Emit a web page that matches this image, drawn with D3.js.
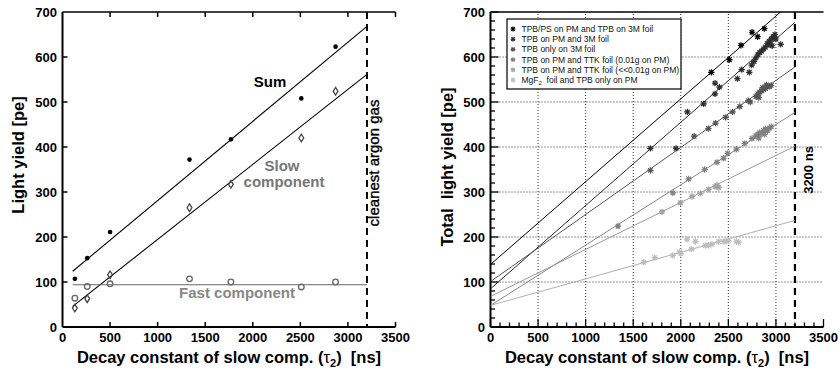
<!DOCTYPE html>
<html><head><meta charset="utf-8">
<script src="https://cdn.jsdelivr.net/npm/d3@7"></script>
<style>
body{margin:0;background:#fff;}
svg{display:block;font-family:"Liberation Sans",Arial,Helvetica,sans-serif;}
</style></head>
<body><svg id="c" width="840" height="371"></svg>
<script>
// ---------- Left panel data ----------
const tauLeft = [130, 260, 500, 1335, 1770, 2510, 2870];
const sumYield = [107, 153, 211, 372, 417, 508, 623];
const slowYield = [42, 63, 116, 265, 317, 420, 524];
const fastYield = [64, 90, 96, 107, 100, 89, 100];
const leftFitNames = ["Sum", "Slow", "Fast"];
const leftFitIntercepts = [105, 28, 94];
const leftFitSlopes = [0.176, 0.1667, 0];
const leftFitRange = [107, 3200];

// ---------- Right panel data ----------
const seriesNames = [
  "TPB/PS on PM and TPB on 3M foil",
  "TPB on PM and 3M foil",
  "TPB only on 3M foil",
  "TPB on PM and TTK foil (0.01g on PM)",
  "TPB on PM and TTK foil (<<0.01g on PM)",
  "MgF2 foil and TPB only on PM"
];
const seriesColors = ["#000000", "#2e2e2e", "#555555", "#808080", "#a2a2a2", "#bdbdbd"];
const lineColors = ["#000000", "#2e2e2e", "#555555", "#858585", "#9a9a9a", "#b0b0b0"];
const tpbPsPoints = [[2321,566],[2511,594],[2633,626],[2749,655],[2808,645],[2878,663]];
const tpb3mPoints = [[1680,397],[1950,397],[2069,478],[2240,496],[2360,518],[2360,542],[2406,533],
  [2595,552],[2640,572],[2720,566],[2745,582],[2770,590],[2790,598],[2810,605],[2830,610],[2850,613],
  [2870,618],[2890,622],[2910,630],[2930,635],[2950,640],[2970,645],[2985,642],[3000,640],[2960,625],
  [3050,628],[2990,650],[2940,627]];
const tpbOnly3mPoints = [[1680,348],[2140,424],[2290,441],[2365,453],[2470,466],[2545,478],[2620,490],
  [2710,503],[2730,500],[2790,512],[2810,518],[2830,522],[2850,525],[2870,528],[2890,530],[2910,535],
  [2930,534],[2950,537],[2820,510],[2860,532],[2900,538]];
const ttk001Points = [[1340,224],[1918,298],[2083,329],[2251,350],[2381,366],[2451,375],[2493,386],
  [2584,395],[2672,408],[2749,419],[2790,425],[2810,428],[2830,432],[2850,430],[2870,437],[2890,440],
  [2910,436],[2930,442],[2950,445],[2820,420],[2880,428]];
const ttkLowPoints = [[1803,256],[1996,276],[2118,290],[2206,297],[2293,306],[2381,315],[2360,312],[2400,310]];
const mgf2Points = [[1611,144],[1726,154],[1915,159],[1988,167],[2000,163],[2066,195],[2112,173],
  [2154,190],[2258,181],[2293,182],[2328,184],[2398,190],[2451,190],[2482,191],[2500,192],[2584,190],[2608,188]];
const rightFitIntercepts = [139, 85, 101, 48, 68, 48];
const rightFitSlopes = [0.184, 0.185, 0.149, 0.134, 0.1044, 0.059];
const rightFitRange = [0, 3200];

const xTicks = [0, 500, 1000, 1500, 2000, 2500, 3000, 3500];
const yTicks = [0, 100, 200, 300, 400, 500, 600, 700];
const cutoff = 3200;

// ---------- drawing ----------
const svg = d3.select("#c");
const yTopPx = 12, yBottomPx = 327;
const y = d3.scaleLinear().domain([0, 700]).range([yBottomPx, yTopPx]);
const xL = d3.scaleLinear().domain([0, 3500]).range([62.5, 395.5]);
const xR = d3.scaleLinear().domain([0, 3500]).range([490.5, 823.5]);

function tickLabels(g, x) {
  g.selectAll(".xt").data(xTicks).join("text")
    .attr("x", d => x(d)).attr("y", 342).attr("text-anchor", "middle")
    .attr("font-size", 13).attr("font-weight", "bold").text(d => d);
  g.selectAll(".yt").data(yTicks).join("text")
    .attr("x", x(0) - 5.5).attr("y", d => y(d) + 4.7).attr("text-anchor", "end")
    .attr("font-size", 13).attr("font-weight", "bold").text(d => d);
}
function xTitle(g, x) {
  const t = g.append("text").attr("x", (x(0) + x(3500)) / 2).attr("y", 363)
    .attr("text-anchor", "middle").attr("font-size", 16.5).attr("font-weight", "bold");
  t.append("tspan").text("Decay constant of slow comp. (");
  t.append("tspan").attr("font-weight", "normal").text("τ");
  t.append("tspan").attr("font-size", 11).attr("dy", 4).text("2");
  t.append("tspan").attr("dy", -4).text(")\u00a0\u00a0[ns]");
}

// ===== LEFT PANEL =====
const L = svg.append("g");
L.append("line").attr("x1", xL(0)).attr("x2", xL(3500)).attr("y1", y(700)).attr("y2", y(700))
  .attr("stroke", "#000").attr("stroke-width", 1.5);
L.append("line").attr("x1", xL(0)).attr("x2", xL(3500)).attr("y1", y(0)).attr("y2", y(0))
  .attr("stroke", "#000").attr("stroke-width", 2);
L.append("line").attr("x1", xL(0)).attr("x2", xL(0)).attr("y1", y(0)).attr("y2", y(700))
  .attr("stroke", "#000").attr("stroke-width", 2);
L.selectAll(".ytk").data(yTicks.slice(1, -1)).join("line")
  .attr("x1", xL(0)).attr("x2", xL(0) + 5).attr("y1", d => y(d)).attr("y2", d => y(d))
  .attr("stroke", "#000").attr("stroke-width", 1.5);
L.selectAll(".xtkb").data(xTicks.slice(1)).join("line")
  .attr("x1", d => xL(d)).attr("x2", d => xL(d)).attr("y1", y(0)).attr("y2", y(0) - 5)
  .attr("stroke", "#000").attr("stroke-width", 1.5);
L.selectAll(".xtkt").data(xTicks.slice(1)).join("line")
  .attr("x1", d => xL(d)).attr("x2", d => xL(d)).attr("y1", y(700)).attr("y2", y(700) + 5)
  .attr("stroke", "#000").attr("stroke-width", 1.5);
tickLabels(L, xL);
xTitle(L, xL);
L.append("text").attr("transform", "translate(24,155) rotate(-90)").attr("text-anchor", "middle")
  .attr("font-size", 16.5).attr("font-weight", "bold").text("Light yield [pe]");
L.append("line").attr("x1", xL(cutoff)).attr("x2", xL(cutoff)).attr("y1", y(700)).attr("y2", y(0))
  .attr("stroke", "#000").attr("stroke-width", 2).attr("stroke-dasharray", "7,5");
L.append("text").attr("transform", `translate(${xL(cutoff) + 12},163) rotate(-90)`).attr("text-anchor", "middle")
  .attr("font-size", 15).attr("stroke", "#000").attr("stroke-width", 0.35).text("cleanest argon gas");
const leftFitColors = ["#000", "#000", "#666"];
leftFitNames.forEach((n, i) => {
  L.append("line")
    .attr("x1", xL(leftFitRange[0])).attr("y1", y(leftFitIntercepts[i] + leftFitSlopes[i] * leftFitRange[0]))
    .attr("x2", xL(leftFitRange[1])).attr("y2", y(leftFitIntercepts[i] + leftFitSlopes[i] * leftFitRange[1]))
    .attr("stroke", leftFitColors[i]).attr("stroke-width", 1.1);
});
L.selectAll(".fast").data(tauLeft).join("circle")
  .attr("cx", d => xL(d)).attr("cy", (d, i) => y(fastYield[i])).attr("r", 2.8)
  .attr("fill", "none").attr("stroke", "#666").attr("stroke-width", 1.3);
L.selectAll(".slow").data(tauLeft).join("path")
  .attr("transform", (d, i) => `translate(${xL(d)},${y(slowYield[i])})`)
  .attr("d", "M0,-3.8L2.4,0L0,3.8L-2.4,0Z")
  .attr("fill", "none").attr("stroke", "#444").attr("stroke-width", 1.3);
L.selectAll(".sum").data(tauLeft).join("circle")
  .attr("cx", d => xL(d)).attr("cy", (d, i) => y(sumYield[i])).attr("r", 2.3).attr("fill", "#000");
L.append("text").attr("x", 270).attr("y", 87).attr("text-anchor", "middle").attr("font-size", 15)
  .attr("font-weight", "bold").text("Sum");
L.append("text").attr("x", 282).attr("y", 171).attr("text-anchor", "middle").attr("font-size", 15)
  .attr("font-weight", "bold").attr("fill", "#777").text("Slow");
L.append("text").attr("x", 284).attr("y", 187).attr("text-anchor", "middle").attr("font-size", 15)
  .attr("font-weight", "bold").attr("fill", "#777").text("component");
L.append("text").attr("x", 237).attr("y", 298).attr("text-anchor", "middle").attr("font-size", 15)
  .attr("font-weight", "bold").attr("fill", "#888").text("Fast component");

// ===== RIGHT PANEL =====
const R = svg.append("g");
svg.append("defs").append("clipPath").attr("id", "clipR").append("rect")
  .attr("x", xR(0)).attr("y", y(700)).attr("width", xR(3500) - xR(0)).attr("height", y(0) - y(700));
R.selectAll(".gx").data(xTicks.slice(1, -1)).join("line")
  .attr("x1", d => xR(d)).attr("x2", d => xR(d)).attr("y1", y(0)).attr("y2", y(700))
  .attr("stroke", "#333").attr("stroke-width", 1).attr("stroke-dasharray", "1,2");
R.selectAll(".gy").data(yTicks.slice(1, -1)).join("line")
  .attr("x1", xR(0)).attr("x2", xR(3500)).attr("y1", d => y(d)).attr("y2", d => y(d))
  .attr("stroke", "#333").attr("stroke-width", 1).attr("stroke-dasharray", "1,2");
R.append("line").attr("x1", xR(0)).attr("x2", xR(3500)).attr("y1", y(700)).attr("y2", y(700))
  .attr("stroke", "#000").attr("stroke-width", 1.5);
R.append("line").attr("x1", xR(0)).attr("x2", xR(3500)).attr("y1", y(0)).attr("y2", y(0))
  .attr("stroke", "#000").attr("stroke-width", 2);
R.append("line").attr("x1", xR(0)).attr("x2", xR(0)).attr("y1", y(0)).attr("y2", y(700))
  .attr("stroke", "#000").attr("stroke-width", 2);
const yMinor = d3.range(0, 701, 20);
R.selectAll(".ymt").data(yMinor).join("line")
  .attr("x1", xR(0)).attr("x2", d => xR(0) + (d % 100 === 0 ? 8 : 4.5))
  .attr("y1", d => y(d)).attr("y2", d => y(d)).attr("stroke", "#000").attr("stroke-width", 1.3);
const xMinor = d3.range(0, 3501, 100);
R.selectAll(".xmt").data(xMinor).join("line")
  .attr("x1", d => xR(d)).attr("x2", d => xR(d)).attr("y1", y(0))
  .attr("y2", d => y(0) - (d % 500 === 0 ? 8 : 4.5)).attr("stroke", "#000").attr("stroke-width", 1.3);
tickLabels(R, xR);
xTitle(R, xR);
R.append("text").attr("transform", "translate(452.5,167) rotate(-90)").attr("text-anchor", "middle")
  .attr("font-size", 16.5).attr("font-weight", "bold").text("Total\u00a0\u00a0light yield [pe]");
R.append("line").attr("x1", xR(cutoff)).attr("x2", xR(cutoff)).attr("y1", y(700)).attr("y2", y(0))
  .attr("stroke", "#000").attr("stroke-width", 2.2).attr("stroke-dasharray", "7,5");
R.append("text").attr("transform", `translate(${xR(cutoff) + 18},170) rotate(-90)`).attr("text-anchor", "middle")
  .attr("font-size", 13).attr("font-weight", "bold").text("3200 ns");
const fitG = R.append("g").attr("clip-path", "url(#clipR)");
rightFitIntercepts.forEach((b, i) => {
  fitG.append("line")
    .attr("x1", xR(rightFitRange[0])).attr("y1", y(b + rightFitSlopes[i] * rightFitRange[0]))
    .attr("x2", xR(rightFitRange[1])).attr("y2", y(b + rightFitSlopes[i] * rightFitRange[1]))
    .attr("stroke", lineColors[i]).attr("stroke-width", 1);
});
const asterisk = {
  draw(ctx, size) {
    const r = Math.sqrt(size) / 2;
    const d = r * 0.72;
    ctx.moveTo(-r, 0); ctx.lineTo(r, 0);
    ctx.moveTo(0, -r); ctx.lineTo(0, r);
    ctx.moveTo(-d, -d); ctx.lineTo(d, d);
    ctx.moveTo(-d, d); ctx.lineTo(d, -d);
  }
};
const allSeries = [tpbPsPoints, tpb3mPoints, tpbOnly3mPoints, ttk001Points, ttkLowPoints, mgf2Points];
const symPath = d3.symbol().type(asterisk).size(40)();
for (let i = allSeries.length - 1; i >= 0; i--) {
  R.append("g").selectAll("path").data(allSeries[i]).join("path")
    .attr("transform", d => `translate(${xR(d[0])},${y(d[1])})`)
    .attr("d", symPath).attr("fill", "none").attr("stroke", seriesColors[i]).attr("stroke-width", 1.2);
}
const lg = R.append("g");
lg.append("rect").attr("x", 507).attr("y", 19).attr("width", 174).attr("height", 70)
  .attr("fill", "#fff").attr("stroke", "#000").attr("stroke-width", 1.2);
seriesNames.forEach((n, i) => {
  const cy = 29 + i * 10.2;
  lg.append("path").attr("transform", `translate(513,${cy})`).attr("d", d3.symbol().type(asterisk).size(24)())
    .attr("fill", "none").attr("stroke", seriesColors[i]).attr("stroke-width", 1.1);
  const t = lg.append("text").attr("x", 521.5).attr("y", cy + 3).attr("font-size", 8.5).attr("fill", "#111");
  if (n.startsWith("MgF2")) {
    t.append("tspan").text("MgF");
    t.append("tspan").attr("font-size", 6).attr("dy", 2).text("2");
    t.append("tspan").attr("dy", -2).text("\u00a0 foil and TPB only on PM");
  } else {
    t.text(n);
  }
});
</script>
</body></html>
